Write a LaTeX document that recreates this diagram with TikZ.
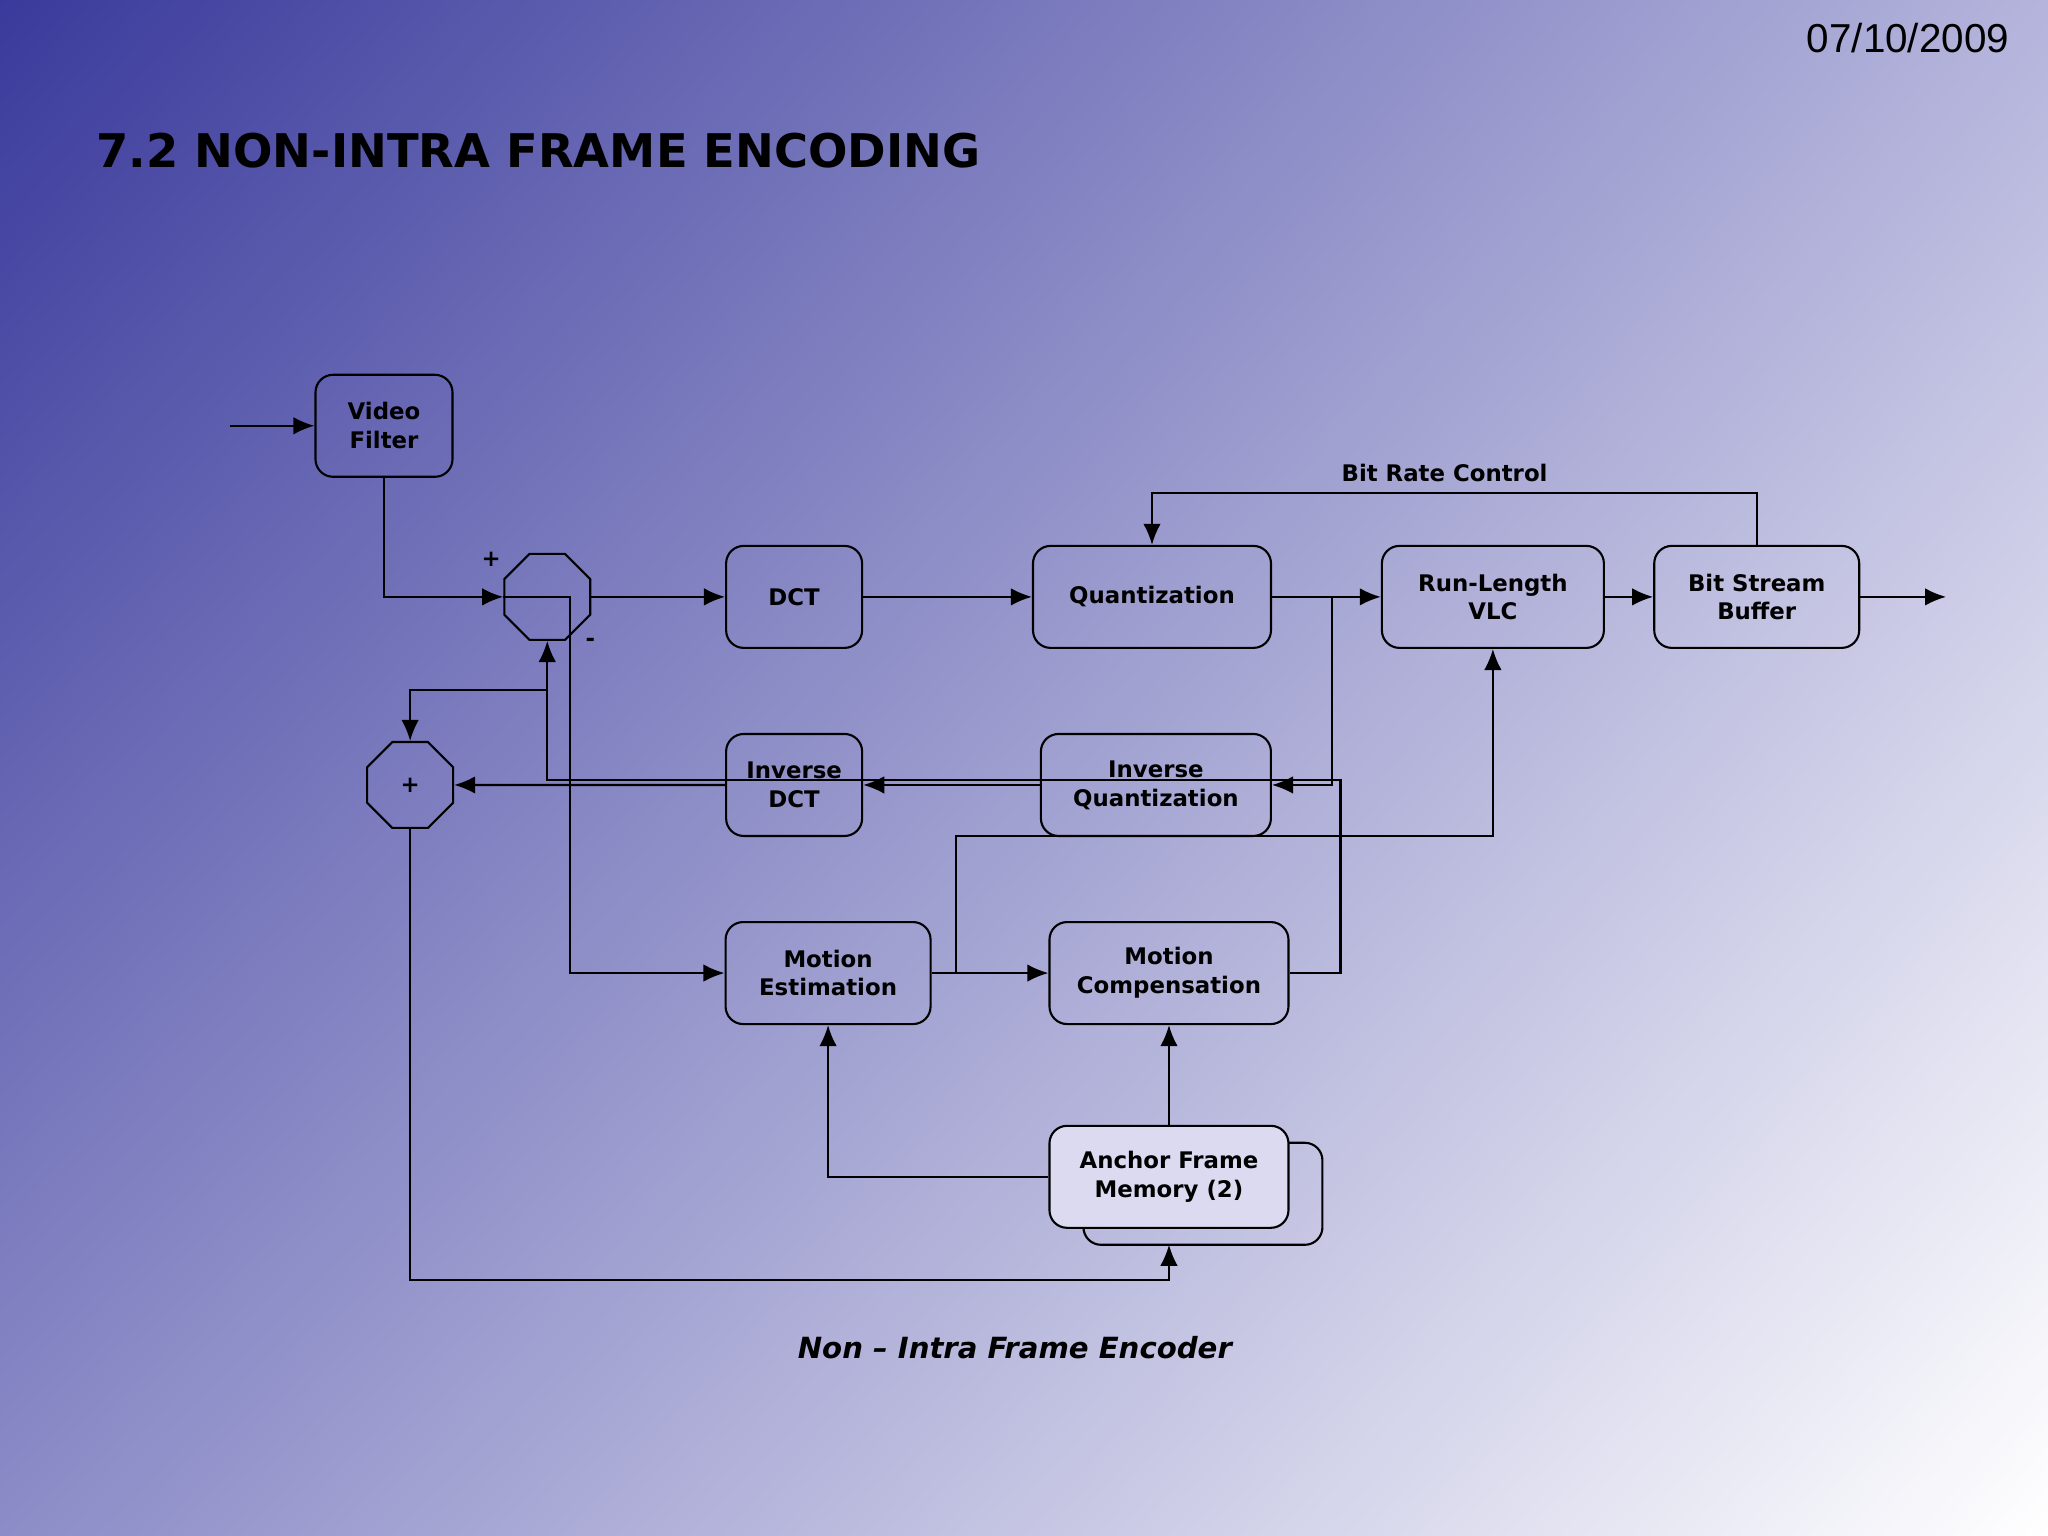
\documentclass[tikz,border=0pt]{standalone}
\usepackage{fontspec}
\setmainfont{DejaVu Sans}
\newfontfamily\datefont{Liberation Sans}
\usetikzlibrary{shapes.geometric,arrows.meta,shadings}
\definecolor{bgdark}{HTML}{3A3A9C}
\definecolor{bgmid}{HTML}{8C8CC8}
\definecolor{bgtop}{HTML}{B4B4DC}
\definecolor{memfill}{HTML}{DCDAF0}
\begin{document}
\begin{tikzpicture}[x=0.0130612cm,y=-0.0130612cm,
  every path/.style={line width=0.6pt},
  >={Latex[length=6pt,width=5pt]},
  blk/.style={draw,rounded corners=5pt,font=\bfseries\fontsize{6.5}{8.2}\selectfont,
    align=center,minimum height=1.02cm,inner sep=1pt},
  sum/.style={draw,regular polygon,regular polygon sides=8,minimum size=0.93cm,
    inner sep=0pt,font=\bfseries\fontsize{6.5}{8.2}\selectfont},
  lbl/.style={font=\bfseries\fontsize{6.5}{8.2}\selectfont}]
  % background
  \shade[upper left=bgdark,upper right=bgtop,lower left=bgmid,lower right=white]
    (0,0) rectangle (1568,1176);
  \useasboundingbox (0,0) rectangle (1568,1176);
  \node[anchor=north east,font=\datefont\fontsize{11.5}{13}\selectfont] (date) at (1548,8) {07/10/2009};
  \node[anchor=west,font=\bfseries\fontsize{13.2}{15}\selectfont] (title) at (64,115) {7.2 NON-INTRA FRAME ENCODING};

  % blocks
  \node[blk,minimum width=1.37cm] (vfilter) at (294,326) {Video\\Filter};
  \node[sum] (sumA) at (419,457) {};
  \node[blk,minimum width=1.36cm] (dct) at (608,457) {DCT};
  \node[blk,minimum width=2.38cm] (quant) at (882,457) {Quantization};
  \node[blk,minimum width=2.22cm] (vlc) at (1143,457) {Run-Length\\VLC};
  \node[blk,minimum width=2.05cm] (buffer) at (1345,457) {Bit Stream\\Buffer};
  \node[sum] (sumB) at (314,601) {+};
  \node[blk,minimum width=1.36cm] (idct) at (608,601) {Inverse\\DCT};
  \node[blk,minimum width=2.30cm] (iquant) at (885,601) {Inverse\\Quantization};
  \node[blk,minimum width=2.05cm] (mest) at (634,745) {Motion\\Estimation};
  \node[blk,minimum width=2.39cm] (mcomp) at (895,745) {Motion\\Compensation};
  \node[blk,minimum width=2.39cm] (anchorbg) at (921,914) {};
  \node[blk,minimum width=2.39cm,fill=memfill] (anchor) at (895,901) {Anchor Frame\\Memory (2)};

  % labels
  \node[lbl] (plusA) at (376,428) {+};
  \node[lbl] (minusA) at (452,492) {-};
  \node[lbl] (brc) at (1106,362) {Bit Rate Control};
  \node[font=\bfseries\itshape\fontsize{8.3}{10}\selectfont] (caption) at (777,1032) {Non -- Intra Frame Encoder};

  \coordinate (in) at (176,326);
  \coordinate (out) at (1490,457);

  % connectors
  \draw[->] (in) -- (vfilter.west);
  \draw[->] (vfilter.south) |- (sumA.west);
  \draw[->] (sumA.west) -- ++(51,0) |- (mest.west);
  \draw[->] (sumA.east) -- (dct.west);
  \draw[->] (dct.east) -- (quant.west);
  \draw[->] (quant.east) -- (vlc.west);
  \draw[->] (quant.east) -- ++(46,0) |- (iquant.east);
  \draw[->] (vlc.east) -- (buffer.west);
  \draw[->] (buffer.east) -- (out);
  \draw[->] (buffer.north) |- ++(0,-40) -| (quant.north);
  \draw[->] (iquant.west) -- (idct.east);
  \draw[->] (idct.west) -- (sumB.east);
  \draw[->] (mcomp.east) -- ++(39,0) |- (419,597) -- (sumA.south);
  \draw[->] (419,528) -| (sumB.north);
  \draw[->] (mest.east) -- (mcomp.west);
  \draw[->] (732,745) |- (1143,640) -- (vlc.south);
  \draw[->] (anchor.west) -| (mest.south);
  \draw[->] (anchor.north) -- (mcomp.south);
  \draw[->] (sumB.south) |- (895,980) -- (895,953);
\end{tikzpicture}
\end{document}
